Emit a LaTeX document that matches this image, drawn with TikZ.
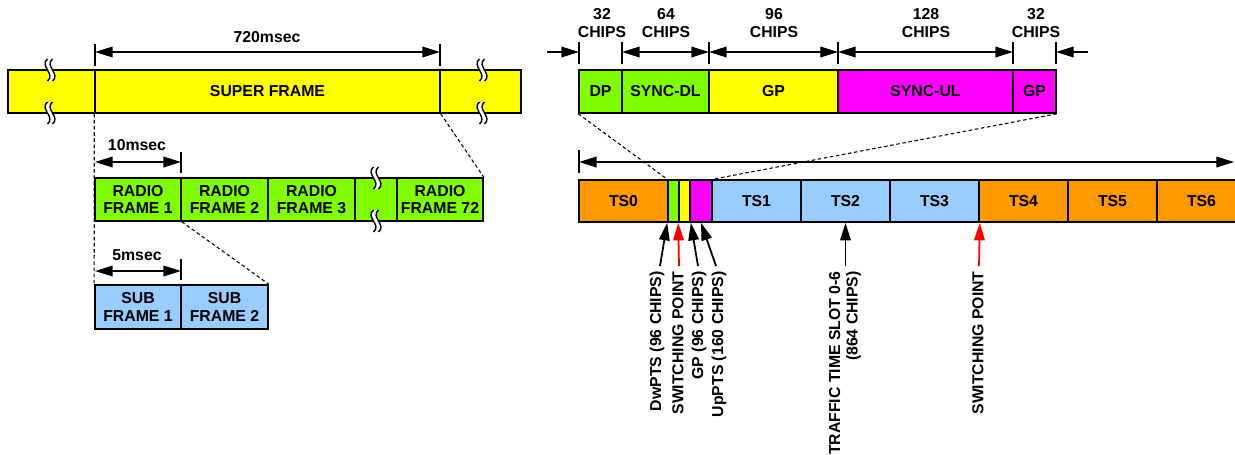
\documentclass[tikz,border=0pt]{standalone}
\usepackage{fontspec}
\setmainfont{Liberation Sans}
\usetikzlibrary{arrows.meta}
\definecolor{frmyellow}{HTML}{FFFF00}
\definecolor{frmgreen}{HTML}{80FF00}
\definecolor{frmblue}{HTML}{99CCFF}
\definecolor{frmmagenta}{HTML}{FF00FF}
\definecolor{frmorange}{HTML}{FF9900}
\begin{document}
\begin{tikzpicture}[x=0.02cm,y=-0.02cm,
  every node/.style={font=\fontsize{9}{10}\selectfont\bfseries},
  cell/.style={draw,line width=0.9pt,inner sep=0pt,align=center,minimum height=0.86cm},
  dimline/.style={line width=1pt,{Triangle[length=10pt,width=6pt]}-{Triangle[length=10pt,width=6pt]}},
  oneway/.style={line width=1pt,-{Triangle[length=10pt,width=6pt]}},
  tick/.style={line width=0.8pt},
  zoomline/.style={line width=0.6pt,dash pattern=on 2pt off 1.5pt},
  vlabel/.style={rotate=90,anchor=east,inner sep=0pt},
  brk/.pic={
    \fill[white] (-2.5,-11) .. controls (-11,-4) and (6,4) .. (-2.5,11) -- (2.5,11) .. controls (11,4) and (-6,-4) .. (2.5,-11) -- cycle;
    \draw[line width=0.8pt] (-2.5,-11) .. controls (-11,-4) and (6,4) .. (-2.5,11);
    \draw[line width=0.8pt] (2.5,-11) .. controls (-6,-4) and (11,4) .. (2.5,11);
  }]
\useasboundingbox (0,0) rectangle (1235,454);

% super frame
\node (sfl) at (51.5,91.5) [cell,fill=frmyellow,minimum width=1.74cm] {};
\node (sf) at (267.5,91.5) [cell,fill=frmyellow,minimum width=6.9cm] {SUPER FRAME};
\node (sfr) at (480.5,91.5) [cell,fill=frmyellow,minimum width=1.62cm] {};

% radio frames
\node (rf1) at (138,199.5) [cell,fill=frmgreen,minimum width=1.72cm] {RADIO\\FRAME 1};
\node (rf2) at (224.5,199.5) [cell,fill=frmgreen,minimum width=1.74cm] {RADIO\\FRAME 2};
\node (rf3) at (311.5,199.5) [cell,fill=frmgreen,minimum width=1.74cm] {RADIO\\FRAME 3};
\node (rfgap) at (376,199.5) [cell,fill=frmgreen,minimum width=0.84cm] {};
\node (rf72) at (440,199.5) [cell,fill=frmgreen,minimum width=1.72cm] {RADIO\\FRAME 72};

% sub frames
\node (sub1) at (138,307) [cell,fill=frmblue,minimum width=1.72cm,minimum height=0.88cm] {SUB\\FRAME 1};
\node (sub2) at (224.5,307) [cell,fill=frmblue,minimum width=1.74cm,minimum height=0.88cm] {SUB\\FRAME 2};

% special slots
\node (dp) at (600.5,91.5) [cell,fill=frmgreen,minimum width=0.86cm] {DP};
\node (syncdl) at (665.5,91.5) [cell,fill=frmgreen,minimum width=1.74cm] {SYNC-DL};
\node (gp) at (773.5,91.5) [cell,fill=frmyellow,minimum width=2.58cm] {GP};
\node (syncul) at (925.5,91.5) [cell,fill=frmmagenta,minimum width=3.5cm] {SYNC-UL};
\node (gpb) at (1034.5,91.5) [cell,fill=frmmagenta,minimum width=0.86cm] {GP};

% time slots
\node (ts0) at (623.5,201) [cell,fill=frmorange,minimum width=1.78cm,minimum height=0.84cm] {TS0};
\node (dwpts) at (673.5,201) [cell,fill=frmgreen,minimum width=0.22cm,minimum height=0.84cm] {};
\node (gpts) at (684.5,201) [cell,fill=frmyellow,minimum width=0.22cm,minimum height=0.84cm] {};
\node (uppts) at (701,201) [cell,fill=frmmagenta,minimum width=0.44cm,minimum height=0.84cm] {};
\node (ts1) at (756.5,201) [cell,fill=frmblue,minimum width=1.78cm,minimum height=0.84cm] {TS1};
\node (ts2) at (845.5,201) [cell,fill=frmblue,minimum width=1.78cm,minimum height=0.84cm] {TS2};
\node (ts3) at (934.5,201) [cell,fill=frmblue,minimum width=1.78cm,minimum height=0.84cm] {TS3};
\node (ts4) at (1023.5,201) [cell,fill=frmorange,minimum width=1.78cm,minimum height=0.84cm] {TS4};
\node (ts5) at (1112.5,201) [cell,fill=frmorange,minimum width=1.78cm,minimum height=0.84cm] {TS5};
\node (ts6) at (1201.5,201) [cell,fill=frmorange,minimum width=1.78cm,minimum height=0.84cm] {TS6};

% zoom lines
\draw[zoomline] (sf.south west) -- (sub1.north west);
\draw[zoomline] (sf.south east) -- (rf72.north east);
\draw[zoomline] (rf1.south east) -- (sub2.north east);
\draw[zoomline] (dp.south west) -- (dwpts.north west);
\draw[zoomline] (gpb.south east) -- (uppts.north east);

% breaks
\pic at (50,70) {brk};
\pic at (50,113) {brk};
\pic at (482,70) {brk};
\pic at (482,113) {brk};
\pic at (376,178) {brk};
\pic at (376,221) {brk};

% durations
\coordinate (a720) at (95,52);
\coordinate (b720) at (440,52);
\coordinate (a10) at (95,162);
\coordinate (b10) at (181,162);
\coordinate (a5) at (95,271);
\coordinate (b5) at (181,271);
\draw[tick] (95,44) -- (95,66);
\draw[tick] (440,44) -- (440,66);
\draw[tick] (181,152) -- (181,173);
\draw[tick] (181,259) -- (181,280);
\draw[dimline] (a720) -- (b720);
\draw[dimline] (a10) -- (b10);
\draw[dimline] (a5) -- (b5);
\node (l720) at (267,37) {720msec};
\node (l10) at (137,145) {10msec};
\node (l5) at (137,255) {5msec};

% chips
\coordinate (c1) at (579,52);
\coordinate (c2) at (622,52);
\coordinate (c3) at (709,52);
\coordinate (c4) at (838,52);
\coordinate (c5) at (1013,52);
\coordinate (c6) at (1056,52);
\coordinate (cin) at (547,52);
\coordinate (cout) at (1088,52);
\draw[tick] (579,42) -- (579,64);
\draw[tick] (622,42) -- (622,64);
\draw[tick] (709,42) -- (709,64);
\draw[tick] (838,42) -- (838,64);
\draw[tick] (1013,42) -- (1013,64);
\draw[tick] (1056,42) -- (1056,64);
\draw[oneway] (cin) -- (c1);
\draw[dimline] (c2) -- (c3);
\draw[dimline] (c3) -- (c4);
\draw[dimline] (c4) -- (c5);
\draw[oneway] (cout) -- (c6);
\node (n32a) at (602,23) [align=center] {32\\CHIPS};
\node (n64) at (666,23) [align=center] {64\\CHIPS};
\node (n96) at (774,23) [align=center] {96\\CHIPS};
\node (n128) at (926,23) [align=center] {128\\CHIPS};
\node (n32b) at (1036,23) [align=center] {32\\CHIPS};

% subframe span
\coordinate (s1) at (579,162);
\coordinate (s2) at (1234,162);
\draw[tick] (579,150) -- (579,173);
\draw[dimline] (s1) -- (s2);

% pointers
\node (ldw) at (657,271) [vlabel] {DwPTS (96 CHIPS)};
\node (lsw1) at (678,271) [vlabel] {SWITCHING POINT};
\node (lgp) at (699,271) [vlabel] {GP (96 CHIPS)};
\node (lup) at (719,271) [vlabel] {UpPTS (160 CHIPS)};
\node (ltr) at (845,271) [vlabel,align=right] {TRAFFIC TIME SLOT 0-6\\(864 CHIPS)};
\node (lsw2) at (978,271) [vlabel] {SWITCHING POINT};
\coordinate (p1) at (660,266);
\coordinate (p2) at (679,266);
\coordinate (p3) at (698,266);
\coordinate (p4) at (716,266);
\coordinate (p5) at (845.5,266);
\coordinate (p6) at (979,266);
\draw[oneway] (p1) -- (dwpts.south west);
\draw[oneway,red] (p2) -- (gpts.south west);
\draw[oneway] (p3) -- (gpts.south east);
\draw[oneway] (p4) -- (uppts.south);
\draw[oneway] (p5) -- (ts2.south);
\draw[oneway,red] (p6) -- (ts3.south east);
\end{tikzpicture}
\end{document}
